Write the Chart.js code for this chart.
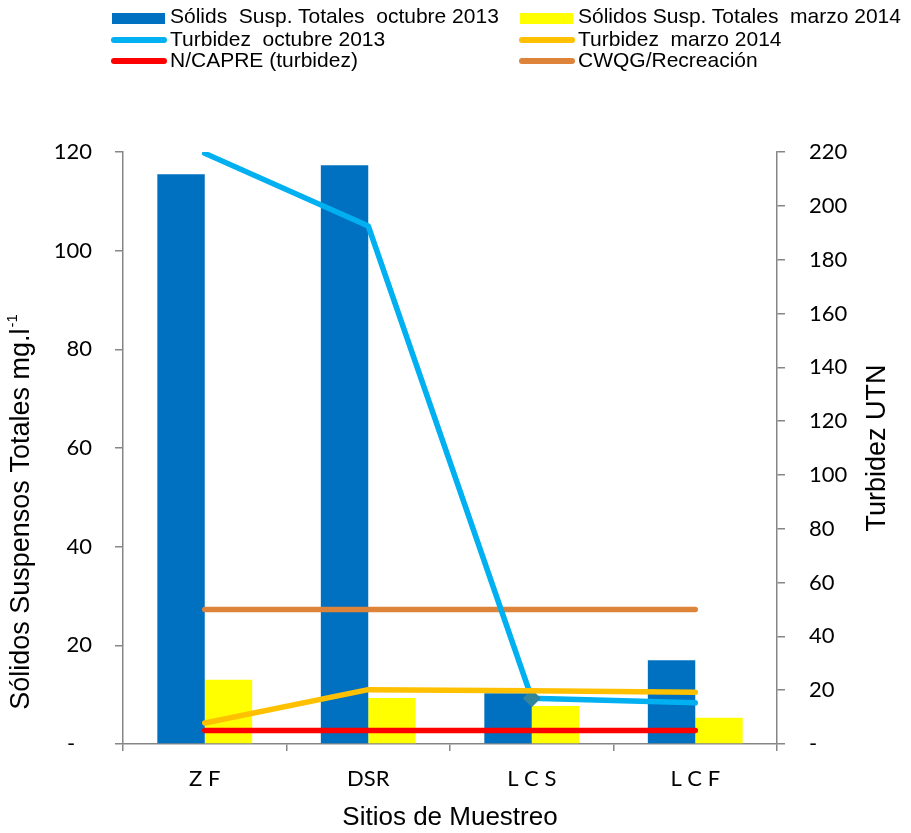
<!DOCTYPE html>
<html>
<head>
<meta charset="utf-8">
<script src="https://cdn.jsdelivr.net/npm/chart.js@4.4.0/dist/chart.umd.min.js"></script>
<style>
  html, body { margin: 0; padding: 0; background: #fff; }
  #wrap { position: relative; width: 911px; height: 833px; }
  #legend { position: absolute; left: 0; top: 0; width: 911px; height: 80px;
    font-family: "Liberation Sans", Arial, sans-serif; font-size: 21px; color: #000; }
  .item { position: absolute; white-space: pre; line-height: 22px; }
  .sw { position: absolute; }
</style>
</head>
<body>
<div id="wrap">
  <canvas id="myChart" width="911" height="833"></canvas>
  <div id="legend"></div>
</div>
<script>
const sites = ["Z F", "DSR", "L C S", "L C F"]
// mg/l
const sstOct2013 = [115.5, 117.3, 10.3, 17.0]
const sstMar2014 = [13.0, 9.3, 7.7, 5.3]
// UTN
const turbOct2013 = [219.5, 192.5, 17.0, 15.3]
const turbMar2014 = [7.8, 20.2, 19.8, 19.2]
const nCapre = [5, 5, 5, 5]
const cwqgRecreacion = [50, 50, 50, 50]

const leftTicks = [0, 20, 40, 60, 80, 100, 120]
const rightTicks = [0, 20, 40, 60, 80, 100, 120, 140, 160, 180, 200, 220]

const BLUE = '#0070C0'
const YELLOW = '#FFFF00'
const SKY = '#00B0F0'
const ORANGE = '#FFC000'
const RED = '#FF0000'
const BROWN = '#DD843A'
const AXIS = '#868686'
const TITLE_FONT = '27px "Liberation Sans", Arial, sans-serif'

// legend on top, two columns
const legendItems = [
  { text: "Sólids  Susp. Totales  octubre 2013", kind: "box", color: BLUE, x: 112, y: 5 },
  { text: "Sólidos Susp. Totales  marzo 2014", kind: "box", color: YELLOW, x: 520, y: 5 },
  { text: "Turbidez  octubre 2013", kind: "line", color: SKY, x: 112, y: 28 },
  { text: "Turbidez  marzo 2014", kind: "line", color: ORANGE, x: 520, y: 28 },
  { text: "N/CAPRE (turbidez)", kind: "line", color: RED, x: 112, y: 49 },
  { text: "CWQG/Recreación", kind: "line", color: BROWN, x: 520, y: 49 }
]

const legend = document.getElementById("legend")
legendItems.forEach((it) => {
  const sw = document.createElement("div")
  sw.className = "sw"
  if (it.kind === "box") {
    sw.style.cssText = `left:${it.x}px;top:${it.y + 8}px;width:53px;height:11px;background:${it.color}`
  } else {
    sw.style.cssText = `left:${it.x - 1}px;top:${it.y + 9}px;width:56px;height:6px;border-radius:3px;background:${it.color}`
  }
  legend.appendChild(sw)
  const t = document.createElement("div")
  t.className = "item"
  t.style.left = (it.x + 58) + "px"
  t.style.top = it.y + "px"
  t.textContent = it.text
  legend.appendChild(t)
})

// vertical axis titles, both reading bottom to top
const axisTitles = {
  id: 'axisTitles',
  afterDraw(chart) {
    const c = chart.ctx
    c.save()
    c.fillStyle = '#000'
    c.textBaseline = 'middle'
    c.textAlign = 'left'

    // left: main text plus a small superscript "-1"
    const main = 'Sólidos Suspensos Totales mg.l'
    const sup = '-1'
    c.font = TITLE_FONT
    const wMain = c.measureText(main).width
    c.font = '15px "Liberation Sans", Arial, sans-serif'
    const wSup = c.measureText(sup).width
    const total = wMain + wSup + 1
    c.save()
    c.translate(22, 512)
    c.rotate(-Math.PI / 2)
    c.font = TITLE_FONT
    c.fillText(main, -total / 2, 0)
    c.font = '15px "Liberation Sans", Arial, sans-serif'
    c.fillText(sup, -total / 2 + wMain + 1, -9)
    c.restore()

    // right
    c.save()
    c.translate(878, 448)
    c.rotate(-Math.PI / 2)
    c.font = TITLE_FONT
    c.textAlign = 'center'
    c.fillText('Turbidez UTN', 0, 0)
    c.restore()

    c.restore()
  }
}

const lineDefaults = {
  type: 'line',
  yAxisID: 'y2',
  borderWidth: 5.5,
  borderCapStyle: 'round',
  borderJoinStyle: 'round',
  pointRadius: 0,
  tension: 0,
  fill: false
}

const ctx = document.getElementById('myChart')
const myChart = new Chart(ctx, {
  type: 'bar',
  data: {
    labels: sites,
    datasets: [
      { ...lineDefaults, label: 'N/CAPRE (turbidez)', data: nCapre, borderColor: RED, order: 1 },
      { ...lineDefaults, label: 'Turbidez  marzo 2014', data: turbMar2014, borderColor: ORANGE, order: 2 },
      { ...lineDefaults, label: 'Turbidez  octubre 2013', data: turbOct2013, borderColor: SKY, order: 3,
        pointRadius: [0, 0, 9, 0], pointStyle: 'rectRot',
        pointBackgroundColor: '#31859C', pointBorderColor: '#31859C', pointBorderWidth: 0 },
      { ...lineDefaults, label: 'CWQG/Recreación', data: cwqgRecreacion, borderColor: BROWN, order: 4 },
      { label: 'Sólids Susp. Totales octubre 2013', data: sstOct2013, backgroundColor: BLUE,
        yAxisID: 'y', order: 10, categoryPercentage: 0.58, barPercentage: 1 },
      { label: 'Sólidos Susp. Totales marzo 2014', data: sstMar2014, backgroundColor: YELLOW,
        yAxisID: 'y', order: 11, categoryPercentage: 0.58, barPercentage: 1 }
    ]
  },
  options: {
    responsive: false,
    animation: false,
    layout: { padding: { top: 152, left: 0, right: 0, bottom: 0 } },
    plugins: { legend: { display: false }, tooltip: { enabled: false } },
    scales: {
      x: {
        grid: { drawOnChartArea: false, drawTicks: true, tickLength: 7, color: AXIS, lineWidth: 1.5, offset: true },
        border: { color: AXIS, width: 1.5 },
        ticks: { color: '#000', font: { family: 'Lato', size: 22 }, padding: 15 },
        title: { display: true, text: 'Sitios de Muestreo', color: '#000',
          font: { family: 'Liberation Sans', size: 26 }, padding: { top: 0, bottom: 0 } },
        afterFit: (s) => { s.height = 833 - 744 }
      },
      y: {
        position: 'left',
        min: 0, max: 120,
        afterBuildTicks: (s) => { s.ticks = leftTicks.map((v) => ({ value: v })) },
        grid: { drawOnChartArea: false, drawTicks: true, tickLength: 8, color: AXIS, lineWidth: 1.5 },
        border: { color: AXIS, width: 1.5 },
        ticks: { color: '#000', font: { family: 'Lato', size: 22 }, padding: 23,
          callback: (v) => v === 0 ? '-   ' : v },
        afterFit: (s) => { s.width = 123 }
      },
      y2: {
        position: 'right',
        min: 0, max: 220,
        afterBuildTicks: (s) => { s.ticks = rightTicks.map((v) => ({ value: v })) },
        grid: { drawOnChartArea: false, drawTicks: true, tickLength: 8, color: AXIS, lineWidth: 1.5 },
        border: { color: AXIS, width: 1.5 },
        ticks: { color: '#000', font: { family: 'Lato', size: 22 }, padding: 24,
          callback: (v) => v === 0 ? '-' : v },
        afterFit: (s) => { s.width = 911 - 777 }
      }
    }
  },
  plugins: [axisTitles]
})
</script>
</body>
</html>
